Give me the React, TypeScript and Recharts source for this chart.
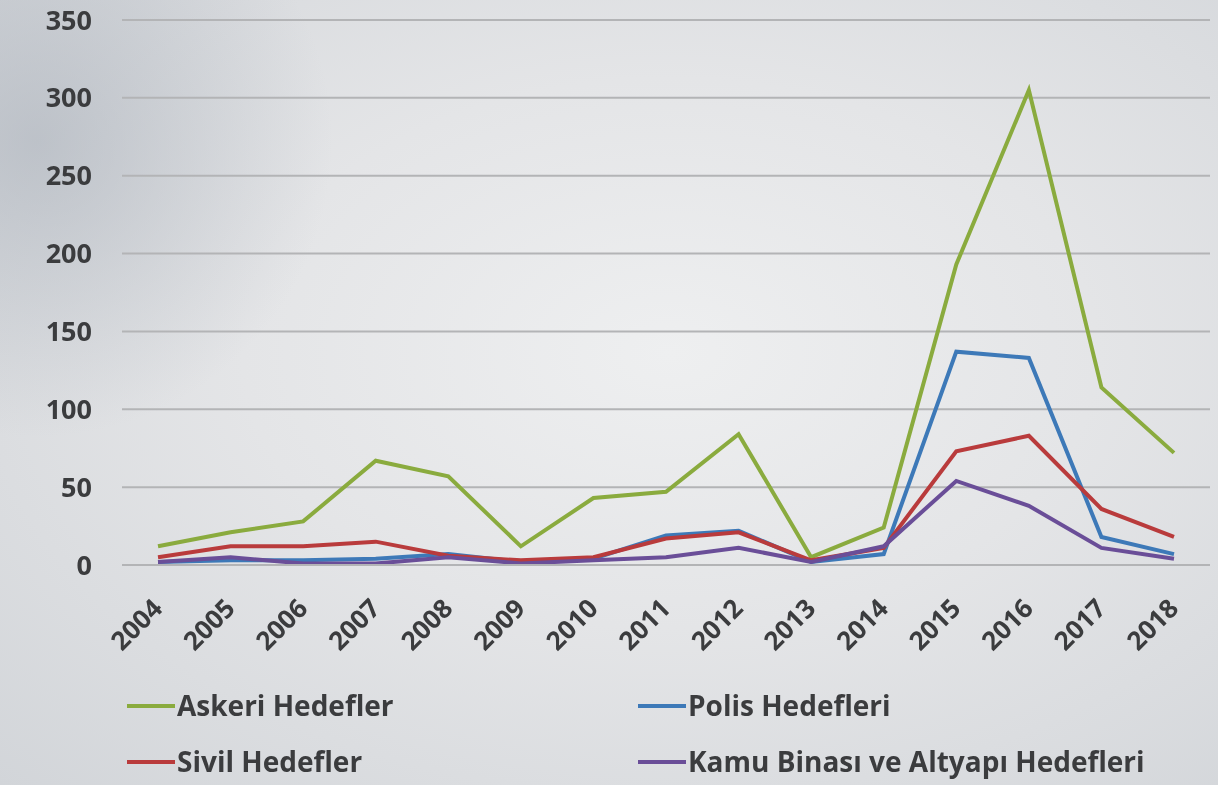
import React from 'react';
import { LineChart, Line, XAxis, YAxis, CartesianGrid } from 'recharts';

// yıllar ve hedef türlerine göre saldırı sayıları
const years = ['2004', '2005', '2006', '2007', '2008', '2009', '2010', '2011', '2012', '2013', '2014', '2015', '2016', '2017', '2018'];
const askeri = [12, 21, 28, 67, 57, 12, 43, 47, 84, 5, 24, 193, 305, 114, 72];
const polis = [2, 3, 3, 4, 7, 2, 4, 19, 22, 2, 7, 137, 133, 18, 7];
const sivil = [5, 12, 12, 15, 6, 3, 5, 17, 21, 3, 11, 73, 83, 36, 18];
const kamu = [2, 5, 1, 1, 5, 1, 3, 5, 11, 2, 12, 54, 38, 11, 4];
const yTicks = [0, 50, 100, 150, 200, 250, 300, 350];

const series = [
  { key: 'askeri', name: 'Askeri Hedefler', color: '#8aab3e' },
  { key: 'polis', name: 'Polis Hedefleri', color: '#3d79b8' },
  { key: 'sivil', name: 'Sivil Hedefler', color: '#b93b3c' },
  { key: 'kamu', name: 'Kamu Binası ve Altyapı Hedefleri', color: '#6a4e98' },
];

const data = years.map((y, i) => ({
  year: y,
  askeri: askeri[i],
  polis: polis[i],
  sivil: sivil[i],
  kamu: kamu[i],
}));

const font = '"Open Sans", "DejaVu Sans", sans-serif';
const textColor = '#3b3c3e';

const YearTick = (props: any) => {
  const { x, y, payload } = props;
  const ax = x + 6;
  const ay = y + 45;
  return (
    <text x={ax} y={ay} transform={`rotate(-45, ${ax}, ${ay})`} textAnchor="end"
      fontFamily={font} fontWeight={700} fontSize={26} fill={textColor}>
      {payload.value}
    </text>
  );
};

// legend: 2 sütun, 2 satır (Excel'deki gibi)
const legendCols = [127, 638];
const legendRows = [706, 762];

export default function App() {
  return (
    <div style={{
      position: 'fixed', left: 0, top: 0, width: 1218, height: 785, overflow: 'hidden',
      background: 'radial-gradient(circle at 3% 18%, rgba(165,172,182,0.55), rgba(165,172,182,0) 22%), radial-gradient(ellipse at 55% 45%, #eeeff0 0%, #e4e5e7 45%, #d2d5d9 100%)',
    }}>
      <LineChart width={1218} height={680} data={data} margin={{ top: 20, right: 8, bottom: 0, left: 0 }}>
        <CartesianGrid vertical={false} stroke="#b3b4b6" strokeWidth={2} />
        <XAxis dataKey="year" height={115} tickLine={false} tickSize={0} tickMargin={0}
          axisLine={{ stroke: '#b3b4b6', strokeWidth: 2 }} padding={{ left: 36, right: 36 }}
          interval={0} tick={<YearTick />} />
        <YAxis width={122} domain={[0, 350]} ticks={yTicks} axisLine={false} tickLine={false}
          tickSize={0} tickMargin={30}
          tick={{ fontFamily: font, fontWeight: 700, fontSize: 27, fill: textColor }} />
        {series.map((s) => (
          <Line key={s.key} type="linear" dataKey={s.key} name={s.name} stroke={s.color}
            strokeWidth={4} dot={false} isAnimationActive={false} />
        ))}
      </LineChart>
      <svg width={1218} height={785} style={{ position: 'absolute', left: 0, top: 0, pointerEvents: 'none' }}>
        {series.map((s, i) => {
          const x = legendCols[i % 2];
          const y = legendRows[Math.floor(i / 2)];
          return (
            <g key={s.key}>
              <line x1={x} x2={x + 48} y1={y} y2={y} stroke={s.color} strokeWidth={4} />
              <text x={x + 50} y={y + 10} fontFamily={font} fontWeight={700} fontSize={28} fill={textColor}>
                {s.name}
              </text>
            </g>
          );
        })}
      </svg>
    </div>
  );
}
